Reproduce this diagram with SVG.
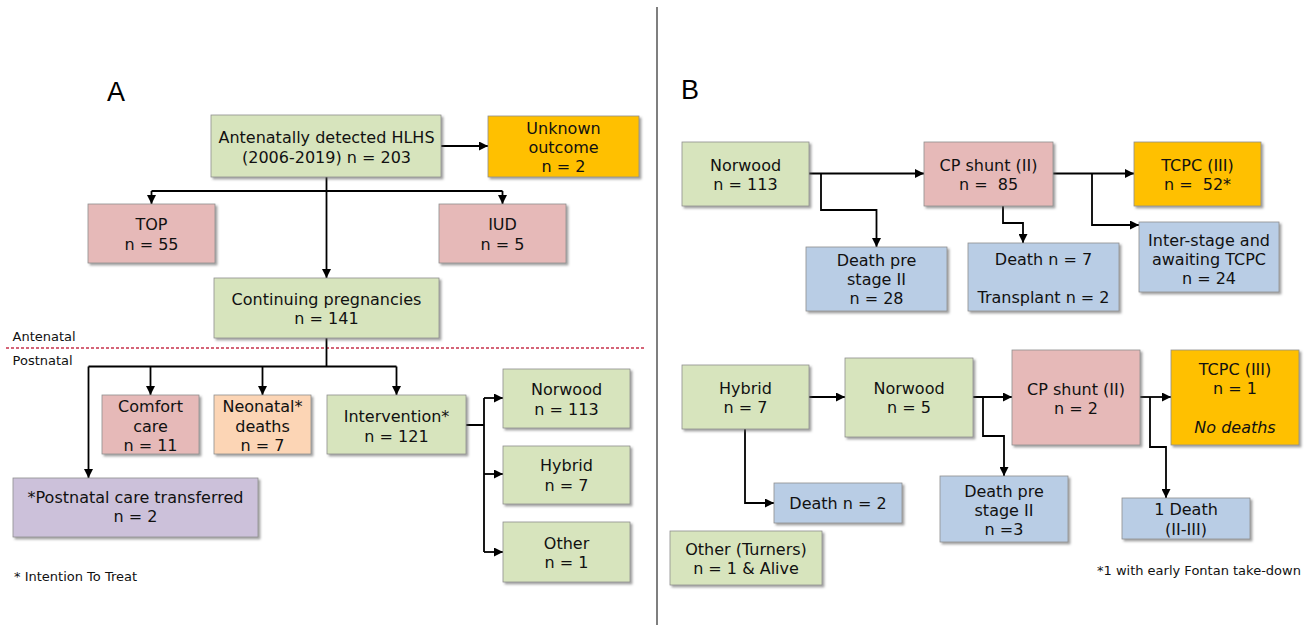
<svg xmlns="http://www.w3.org/2000/svg" width="1315" height="625" viewBox="0 0 1315 625">
<defs>
<style>
.bx{stroke:#8f8f8f;stroke-width:0.8;filter:url(#sh)}
.g{fill:#d7e4bd}.p{fill:#e6b9b8}.o{fill:#ffc000}.pe{fill:#fcd5b5}.l{fill:#ccc1da}.b{fill:#b9cde5}
text{font-family:"DejaVu Sans",Verdana,sans-serif;font-size:16px;fill:#111;white-space:pre}
.t{text-anchor:middle}
.sm{font-size:13px}
.fn{font-size:13px}
.big{font-family:"Liberation Sans",Arial,sans-serif;font-size:27px;fill:#000}
.c{fill:none;stroke:#000;stroke-width:1.8}
.a{marker-end:url(#ar)}
</style>
<filter id="sh" x="-10%" y="-10%" width="130%" height="130%">
<feDropShadow dx="2" dy="2" stdDeviation="1" flood-color="#555" flood-opacity="0.55"/>
</filter>
<marker id="ar" viewBox="0 0 10 10" refX="10" refY="5" markerWidth="9" markerHeight="9" markerUnits="userSpaceOnUse" orient="auto">
<path d="M0,0 L10,5 L0,10 z" fill="#000"/>
</marker>
</defs>
<rect width="1315" height="625" fill="#fff"/>
<line x1="657" y1="7" x2="657" y2="625" stroke="#555" stroke-width="1.5"/>
<text class="big" x="107" y="101">A</text>
<text class="big" x="681" y="99">B</text>
<text class="sm" x="12.6" y="341">Antenatal</text>
<text class="sm" x="12.6" y="365">Postnatal</text>
<line x1="6" y1="348" x2="645" y2="348" stroke="#c8324b" stroke-width="1.6" stroke-dasharray="3,2"/>
<text class="fn" x="14" y="581">* Intention To Treat</text>
<text class="fn" x="1097" y="575">*1 with early Fontan take-down</text>

<g id="connectors">
<path class="c a" d="M441,146 H488"/>
<path class="c a" d="M326.5,177 V278"/>
<path class="c" d="M151.5,191 H502.5"/>
<path class="c a" d="M151.5,191 V204"/>
<path class="c a" d="M502.5,191 V204"/>
<path class="c" d="M326.5,338 V366.5 M88.5,366.5 H396.5"/>
<path class="c a" d="M88.5,366.5 V478"/>
<path class="c a" d="M150.5,366.5 V395"/>
<path class="c a" d="M262.5,366.5 V395"/>
<path class="c a" d="M396.5,366.5 V395"/>
<path class="c" d="M466,425 H484 M484,398 V552"/>
<path class="c a" d="M484,398 H503"/>
<path class="c a" d="M484,474 H503"/>
<path class="c a" d="M484,552 H503"/>

<path class="c a" d="M809,173.5 H924"/>
<path class="c a" d="M821,173.5 V210 H876.5 V247"/>
<path class="c a" d="M1053,173.5 H1134"/>
<path class="c a" d="M1092,173.5 V225 H1139"/>
<path class="c a" d="M1003,206 V223 H1023 V243"/>

<path class="c a" d="M809,397 H845"/>
<path class="c a" d="M973,397 H1012"/>
<path class="c a" d="M983,397 V436 H1004 V476"/>
<path class="c a" d="M1140,397 H1171"/>
<path class="c a" d="M1150,397 V447 H1166 V498"/>
<path class="c a" d="M745,429 V503 H774"/>
</g>

<g id="n-hlhs"><rect class="bx g" x="211" y="115" width="230" height="62"/>
<text class="t" x="326.5" y="142.5">Antenatally detected HLHS</text><text class="t" x="326.5" y="162.5">(2006-2019) n = 203</text></g>
<g id="n-unknown"><rect class="bx o" x="488" y="116" width="151" height="61"/>
<text class="t" x="563.5" y="134">Unknown</text><text class="t" x="563.5" y="153">outcome</text><text class="t" x="563.5" y="172">n = 2</text></g>
<g id="n-top"><rect class="bx p" x="88" y="204" width="127" height="59"/>
<text class="t" x="151.5" y="230">TOP</text><text class="t" x="151.5" y="250">n = 55</text></g>
<g id="n-iud"><rect class="bx p" x="439" y="204" width="127" height="59"/>
<text class="t" x="502.5" y="230">IUD</text><text class="t" x="502.5" y="250">n = 5</text></g>
<g id="n-cont"><rect class="bx g" x="214" y="278" width="225" height="60"/>
<text class="t" x="326.5" y="304.5">Continuing pregnancies</text><text class="t" x="326.5" y="323.5">n = 141</text></g>
<g id="n-comfort"><rect class="bx p" x="102" y="395" width="97" height="59"/>
<text class="t" x="150.5" y="412">Comfort</text><text class="t" x="150.5" y="431.5">care</text><text class="t" x="150.5" y="451">n = 11</text></g>
<g id="n-neonatal"><rect class="bx pe" x="214" y="395" width="97" height="59"/>
<text class="t" x="262.5" y="412">Neonatal*</text><text class="t" x="262.5" y="431.5">deaths</text><text class="t" x="262.5" y="451">n = 7</text></g>
<g id="n-intervention"><rect class="bx g" x="327" y="395" width="139" height="59"/>
<text class="t" x="396.5" y="421.5">Intervention*</text><text class="t" x="396.5" y="441.5">n = 121</text></g>
<g id="n-norwood-a"><rect class="bx g" x="503" y="369" width="127" height="59"/>
<text class="t" x="566.5" y="395">Norwood</text><text class="t" x="566.5" y="414.5">n = 113</text></g>
<g id="n-hybrid-a"><rect class="bx g" x="503" y="446" width="127" height="58"/>
<text class="t" x="566.5" y="471">Hybrid</text><text class="t" x="566.5" y="490.5">n = 7</text></g>
<g id="n-other-a"><rect class="bx g" x="503" y="522" width="127" height="60"/>
<text class="t" x="566.5" y="549">Other</text><text class="t" x="566.5" y="568">n = 1</text></g>
<g id="n-transferred"><rect class="bx l" x="13" y="478" width="245" height="59"/>
<text class="t" x="135.5" y="503">*Postnatal care transferred</text><text class="t" x="135.5" y="522">n = 2</text></g>

<g id="n-norwood-b"><rect class="bx g" x="682" y="142" width="127" height="64"/>
<text class="t" x="745.5" y="170.5">Norwood</text><text class="t" x="745.5" y="189.5">n = 113</text></g>
<g id="n-cp-b"><rect class="bx p" x="924" y="142" width="129" height="64"/>
<text class="t" x="988.5" y="170.5">CP shunt (II)</text><text class="t" x="988.5" y="189.5">n =  85</text></g>
<g id="n-tcpc-b"><rect class="bx o" x="1134" y="142" width="127" height="64"/>
<text class="t" x="1197.5" y="170.5">TCPC (III)</text><text class="t" x="1197.5" y="189.5">n =  52*</text></g>
<g id="n-deathpre-b"><rect class="bx b" x="806" y="247" width="141" height="64"/>
<text class="t" x="876.5" y="265.5">Death pre</text><text class="t" x="876.5" y="284.5">stage II</text><text class="t" x="876.5" y="303.5">n = 28</text></g>
<g id="n-death7"><rect class="bx b" x="968" y="243" width="151" height="68"/>
<text class="t" x="1043.5" y="264.5">Death n = 7</text><text class="t" x="1043.5" y="302.5">Transplant n = 2</text></g>
<g id="n-interstage"><rect class="bx b" x="1139" y="222" width="140" height="70"/>
<text class="t" x="1209" y="245.5">Inter-stage and</text><text class="t" x="1209" y="264.5">awaiting TCPC</text><text class="t" x="1209" y="283.5">n = 24</text></g>

<g id="n-hybrid-b"><rect class="bx g" x="682" y="365" width="127" height="64"/>
<text class="t" x="745.5" y="394">Hybrid</text><text class="t" x="745.5" y="413">n = 7</text></g>
<g id="n-norwood-b2"><rect class="bx g" x="845" y="358" width="128" height="79"/>
<text class="t" x="909" y="394">Norwood</text><text class="t" x="909" y="413">n = 5</text></g>
<g id="n-cp-b2"><rect class="bx p" x="1012" y="350" width="128" height="95"/>
<text class="t" x="1076" y="395">CP shunt (II)</text><text class="t" x="1076" y="414">n = 2</text></g>
<g id="n-tcpc-b2"><rect class="bx o" x="1171" y="350" width="128" height="95"/>
<text class="t" x="1235" y="374.5">TCPC (III)</text><text class="t" x="1235" y="393.5">n = 1</text><text class="t" x="1235" y="432.5" font-style="italic">No deaths</text></g>
<g id="n-deathpre-b2"><rect class="bx b" x="940" y="476" width="128" height="66"/>
<text class="t" x="1004" y="496.5">Death pre</text><text class="t" x="1004" y="515.5">stage II</text><text class="t" x="1004" y="535">n =3</text></g>
<g id="n-death1"><rect class="bx b" x="1122" y="498" width="128" height="41"/>
<text class="t" x="1186" y="515">1 Death</text><text class="t" x="1186" y="535">(II-III)</text></g>
<g id="n-death2"><rect class="bx b" x="774" y="483" width="128" height="40"/>
<text class="t" x="838" y="509">Death n = 2</text></g>
<g id="n-other-b"><rect class="bx g" x="670" y="531" width="152" height="54"/>
<text class="t" x="746" y="554.5">Other (Turners)</text><text class="t" x="746" y="574">n = 1 &amp; Alive</text></g>
</svg>
